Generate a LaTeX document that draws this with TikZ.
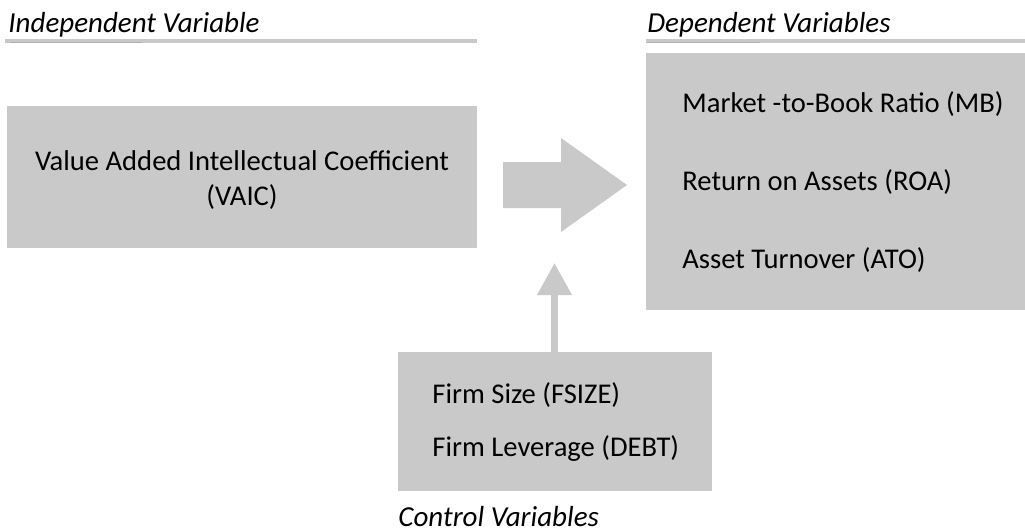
\documentclass[tikz,border=0pt]{standalone}
\usepackage{fontspec}
\setmainfont{Carlito}
\definecolor{boxgray}{RGB}{201,201,201}
\definecolor{rulegray}{RGB}{176,176,176}
\usetikzlibrary{arrows.meta}
\begin{document}
\begin{tikzpicture}[x=0.5pt,y=-0.5pt,
    txt/.style={inner sep=0pt, font=\fontsize{14.3}{17.5}\selectfont},
    head/.style={txt, font=\fontsize{14.5}{17.5}\selectfont\itshape},
    box/.style={fill=boxgray, inner sep=0pt}]
            \useasboundingbox (0,0) rectangle (1025,531);
            % headers
            \node[head, anchor=base west](indep) at (8,32){Independent Variable};
            \node[head, anchor=base west](dep) at (647,32){Dependent Variables};
            \draw[boxgray, line width=2pt] (5,41) -- (477,41);
            \draw[boxgray, line width=2pt] (646,41) -- (1025,41);
            \draw[rulegray, line width=0.6pt] (10,42.5) -- (142,42.5);
            \draw[rulegray, line width=0.6pt] (647,42.5) -- (760,42.5);
            % boxes
            \node[box, anchor=north west, minimum width=235pt, minimum height=71pt](vaic) at (7,106){};
            \node[box, anchor=north west, minimum width=189.5pt, minimum height=128.5pt](perf) at (646,53){};
            \node[box, anchor=north west, minimum width=157pt, minimum height=69.5pt](ctrl) at (398,352){};
            \node[txt, anchor=base](v1) at (242,170.5){Value Added Intellectual Coefficient};
            \node[txt, anchor=base](v2) at (242,205.5){(VAIC)};
            \node[txt, anchor=base west](mb) at (682,112.5){Market -to-Book Ratio (MB)};
            \node[txt, anchor=base west](roa) at (682,190.5){Return on Assets (ROA)};
            \node[txt, anchor=base west](ato) at (682,268.5){Asset Turnover (ATO)};
            \node[txt, anchor=base west](fsize) at (432,403.5){Firm Size (FSIZE)};
            \node[txt, anchor=base west](debt) at (432,456.5){Firm Leverage (DEBT)};
            \node[head, anchor=base west](ctrlhead) at (398,526.5){Control Variables};
            % arrows
            \fill[boxgray] (503,162) -- (561,162) -- (561,138) -- (627,185) -- (561,232)
                -- (561,208) -- (503,208) -- cycle;
            \coordinate(tip) at (554.5,263);
            \draw[boxgray, line width=3.5pt, -{Triangle[width=16.5pt, length=16pt]}]
                (ctrl.north -| tip) -- (tip);
        \end{tikzpicture}
\end{document}
